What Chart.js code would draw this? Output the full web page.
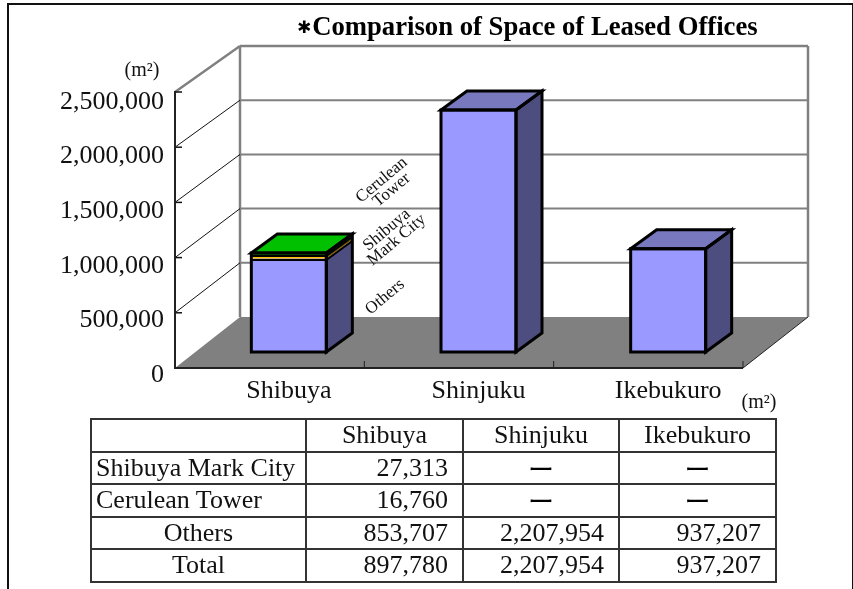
<!DOCTYPE html>
<html><head><meta charset="utf-8">
<style>
html,body{margin:0;padding:0;background:#fff;overflow:hidden}
#wrap{position:relative;width:853px;height:589px}
#frame{position:absolute;left:7px;top:3px;width:843px;height:600px;border:2px solid #111;box-sizing:content-box}
canvas{position:absolute;left:0;top:0}
table{position:absolute;left:90px;top:418px;border-collapse:collapse;table-layout:fixed;width:685px;
 font-family:"Liberation Serif",serif;font-size:26px;color:#111}
td{border:2px solid #333;height:30.5px;padding:0;line-height:28px;text-align:center;white-space:nowrap;overflow:hidden}
td.n{text-align:right;padding-right:14px}
td.l{text-align:left;padding-left:4px}
td.d{font-family:"Noto Sans CJK JP",sans-serif;font-size:26px;font-weight:normal;color:#000}
</style></head><body>
<div id="wrap"><div id="frame"></div><canvas id="c" width="853" height="589"></canvas>
<table id="t"><colgroup><col style="width:215px"><col style="width:157px"><col style="width:156px"><col style="width:157px"></colgroup><tbody></tbody></table>
</div>
<script src="https://cdn.jsdelivr.net/npm/chart.js@4"></script>
<script>
const categories = ["Shibuya", "Shinjuku", "Ikebukuro"];
const others = [853707, 2207954, 937207];
const markCity = [27313, null, null];
const cerulean = [16760, null, null];
const totals = [897780, 2207954, 937207];
const yTicks = [0, 500000, 1000000, 1500000, 2000000, 2500000];
const seriesLabels = ["Others", "Shibuya Mark City", "Cerulean Tower"];
const frontColors = ["#9999FF", "#FFC000", "#00FF00"];
const sideColors = ["#4D4D80", "#806000", "#008000"];
const topColors = ["#7878BE", "#C09000", "#00C000"];

const SERIF = '"Liberation Serif", serif';
const fmt = v => v.toLocaleString("en-US");

// table
const tb = document.querySelector("#t tbody");
function row(cells){
  const tr = document.createElement("tr");
  cells.forEach(([txt, cls]) => { const td = document.createElement("td"); td.textContent = txt; if (cls) td.className = cls; tr.appendChild(td); });
  tb.appendChild(tr);
}
const numCells = a => a.map(v => v == null ? ["ー", "d"] : [fmt(v), "n"]);
row([["", ""]].concat(categories.map(c => [c, ""])));
row([[seriesLabels[1], "l"]].concat(numCells(markCity)));
row([[seriesLabels[2], "l"]].concat(numCells(cerulean)));
row([[seriesLabels[0], ""]].concat(numCells(others)));
row([["Total", ""]].concat(numCells(totals)));

// 3-D box geometry, in pixels
const DEPTH = {dx: 26, dy: -19};
const ROOM = {frontLeft: 175, frontRight: 743, frontTop: 92, frontBottom: 368, backDx: 65, backTop: 46, backBottom: 317};

function poly(ctx, pts, fill, stroke, lw){
  ctx.beginPath();
  pts.forEach((p, i) => i ? ctx.lineTo(p[0], p[1]) : ctx.moveTo(p[0], p[1]));
  ctx.closePath();
  if (fill){ ctx.fillStyle = fill; ctx.fill(); }
  if (stroke){ ctx.strokeStyle = stroke; ctx.lineWidth = lw; ctx.lineJoin = "miter"; ctx.stroke(); }
}
function line(ctx, x1, y1, x2, y2, color, lw){
  ctx.beginPath(); ctx.moveTo(x1, y1); ctx.lineTo(x2, y2);
  ctx.strokeStyle = color; ctx.lineWidth = lw; ctx.stroke();
}
function columns(chart){
  return categories.map((c, j) => {
    const segs = [];
    chart.data.datasets.forEach((ds, i) => {
      if (ds.data[j] != null) { const el = chart.getDatasetMeta(i).data[j]; segs.push({i, x: el.x, y: el.y, base: el.base, w: el.width}); }
    });
    return segs;
  });
}

const room3d = {
  id: "room3d",
  beforeDatasetsDraw(chart){
    const ctx = chart.ctx, y = chart.scales.y, R = ROOM;
    const frontY = v => R.frontTop + (y.getPixelForValue(v) - y.top) * (R.frontBottom - R.frontTop) / (y.bottom - y.top);
    const backY = v => R.backTop + (y.getPixelForValue(v) - y.top) * (R.backBottom - R.backTop) / (y.bottom - y.top);
    const bl = R.frontLeft + R.backDx, br = R.frontRight + R.backDx;
    ctx.save();
    // floor
    poly(ctx, [[R.frontLeft, R.frontBottom], [R.frontRight, R.frontBottom], [br, R.backBottom], [bl, R.backBottom]], "#808080");
    // back wall grid
    yTicks.forEach(v => {
      if (v > 0) line(ctx, bl, backY(v), br, backY(v), "#808080", v === yTicks[yTicks.length - 1] ? 2.5 : 2);
    });
    line(ctx, bl, R.backTop, bl, R.backBottom, "#808080", 2.5);
    line(ctx, br, R.backTop, br, R.backBottom, "#808080", 2.5);
    // side wall
    yTicks.forEach(v => {
      if (v === 0) return;
      const top = v === yTicks[yTicks.length - 1];
      line(ctx, R.frontLeft, frontY(v), bl, backY(v), top ? "#808080" : "#111", top ? 2.5 : 1);
      line(ctx, R.frontLeft, frontY(v), R.frontLeft + 7, frontY(v), "#111", 1.5);
    });
    // axes
    line(ctx, R.frontLeft, R.frontTop - 1, R.frontLeft, R.frontBottom, "#222", 2);
    line(ctx, R.frontLeft - 1, R.frontBottom, R.frontRight, R.frontBottom, "#222", 2);
    line(ctx, R.frontRight, R.frontBottom, br, R.backBottom, "#222", 1);
    const cw = (R.frontRight - R.frontLeft) / categories.length;
    categories.forEach((c, j) => { const px = R.frontLeft + cw * (j + 1); line(ctx, px, R.frontBottom, px, R.frontBottom - 7, "#222", 1); });
    // box side and top faces
    columns(chart).forEach(segs => {
      segs.forEach((s, k) => {
        const r = s.x + s.w / 2, l = s.x - s.w / 2;
        poly(ctx, [[r, s.base], [r + DEPTH.dx, s.base + DEPTH.dy], [r + DEPTH.dx, s.y + DEPTH.dy], [r, s.y]], sideColors[s.i]);
        if (k === segs.length - 1)
          poly(ctx, [[l, s.y], [r, s.y], [r + DEPTH.dx, s.y + DEPTH.dy], [l + DEPTH.dx, s.y + DEPTH.dy]], topColors[s.i]);
      });
    });
    ctx.restore();
  },
  afterDatasetsDraw(chart){
    const ctx = chart.ctx;
    ctx.save();
    columns(chart).forEach(segs => {
      const first = segs[0], last = segs[segs.length - 1];
      const l = first.x - first.w / 2, r = first.x + first.w / 2, b = first.base, t = last.y - 1, dx = DEPTH.dx, dy = DEPTH.dy;
      // inner segment lines, on front and side faces
      segs.slice(0, -1).forEach((s, k) => {
        const yy = Math.round(s.y) + (k === 0 ? 1 : 0);
        line(ctx, l, yy, r, yy, "#000", 2);
        line(ctx, r, yy, r + dx, yy + dy, "#000", 2);
      });
      poly(ctx, [[l, t], [r, t], [r, b], [l, b]], null, "#000", 3);
      poly(ctx, [[r, t], [r + dx, t + dy], [r + dx, b + dy], [r, b]], null, "#000", 3);
      poly(ctx, [[l, t], [l + dx, t + dy], [r + dx, t + dy], [r, t]], null, "#000", 3);
    });
    // rotated series labels, title mark and units
    ctx.fillStyle = "#111";
    ctx.textAlign = "center"; ctx.textBaseline = "middle";
    ctx.font = "17px " + SERIF;
    [["Cerulean", 381.7, 180], ["Tower", 391.7, 190], ["Shibuya", 386.7, 230], ["Mark City", 396.7, 240], ["Others", 385, 297]].forEach(([s, x, y]) => {
      ctx.save(); ctx.translate(x, y); ctx.rotate(-40 * Math.PI / 180); ctx.fillText(s, 0, 0); ctx.restore();
    });
    ctx.font = "20px " + SERIF;
    ctx.fillText("(m²)", 142, 71);
    ctx.fillText("(m²)", 759, 403);
    ctx.font = '17px "DejaVu Sans", sans-serif';
    ctx.fillStyle = "#000";
    ctx.fillText("✱", 304, 29);
    ctx.restore();
  }
};

const PX_PER_UNIT = 109.2e-6; // bar plane scale
new Chart(document.getElementById("c"), {
  type: "bar",
  data: {
    labels: categories,
    datasets: [others, markCity, cerulean].map((d, i) => ({
      label: seriesLabels[i], data: d, backgroundColor: frontColors[i], borderWidth: 0,
      yAxisID: "yBar", xAxisID: "x", barThickness: 75
    }))
  },
  plugins: [room3d],
  options: {
    responsive: false, animation: false,
    layout: {padding: {left: 0, right: 90, top: 0, bottom: 0}},
    plugins: {
      legend: {display: false}, tooltip: {enabled: false},
      title: {
        display: true, text: "Comparison of Space of Leased Offices\u2009", align: "end", color: "#000",
        font: {family: SERIF, size: 26.7, weight: "bold", lineHeight: 1.2},
        padding: {top: 12, bottom: 58}
      }
    },
    scales: {
      x: {
        stacked: true, offset: true,
        grid: {display: false, drawTicks: false}, border: {display: false},
        ticks: {color: "#111", padding: 1, maxRotation: 0, font: {family: SERIF, size: 26}},
        afterFit(s){ s.height = 214; }
      },
      y: {
        min: 0, max: 2500000, position: "left",
        grid: {display: false, drawTicks: false}, border: {display: false},
        ticks: {stepSize: 500000, color: "#111", padding: 30, font: {family: SERIF, size: 26}, callback: v => fmt(v)},
        afterFit(s){ s.width = 194; }
      },
      yBar: {
        axis: "y", stacked: true, display: false,
        min: -23 / PX_PER_UNIT, max: 250 / PX_PER_UNIT
      }
    }
  }
});
</script>
</body></html>
